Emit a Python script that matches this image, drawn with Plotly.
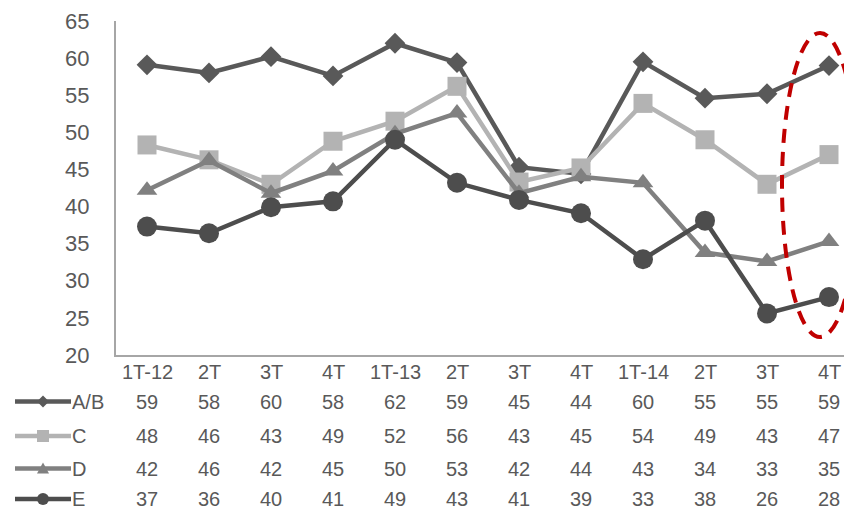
import plotly.graph_objects as go

categories = ["1T-12", "2T", "3T", "4T", "1T-13", "2T", "3T", "4T", "1T-14", "2T", "3T", "4T"]
series_names = ["A/B", "C", "D", "E"]
ab_values = [59.1, 58.0, 60.2, 57.6, 62.0, 59.4, 45.3, 44.4, 59.5, 54.6, 55.2, 59.0]
c_values = [48.3, 46.3, 43.0, 48.8, 51.5, 56.2, 43.3, 45.2, 53.9, 49.0, 43.0, 47.0]
d_values = [42.2, 46.2, 41.8, 44.8, 49.8, 52.6, 41.8, 44.0, 43.2, 33.8, 32.6, 35.3]
e_values = [37.3, 36.4, 39.9, 40.7, 49.0, 43.2, 40.9, 39.1, 32.9, 38.1, 25.6, 27.8]
table_ab = [59, 58, 60, 58, 62, 59, 45, 44, 60, 55, 55, 59]
table_c = [48, 46, 43, 49, 52, 56, 43, 45, 54, 49, 43, 47]
table_d = [42, 46, 42, 45, 50, 53, 42, 44, 43, 34, 33, 35]
table_e = [37, 36, 40, 41, 49, 43, 41, 39, 33, 38, 26, 28]
y_ticks = [20, 25, 30, 35, 40, 45, 50, 55, 60, 65]

OFF = 8  # default page body margin
PW, PH = 852, 511
W, H = PW - OFF, PH - OFF
P_LEFT, P_TOP, P_BOTTOM = 116, 21, 355
L = P_LEFT - OFF
T = P_TOP - OFF
B = PH - P_BOTTOM
R = 0
font_family = "Liberation Sans, Arial, sans-serif"
txt_color = "#595959"

styles = [
    dict(color="#595959", symbol="diamond", size=16),
    dict(color="#b3b3b3", symbol="square", size=19),
    dict(color="#808080", symbol="triangle-up", size=18),
    dict(color="#4d4d4d", symbol="circle", size=20),
]
values = [ab_values, c_values, d_values, e_values]
tables = [table_ab, table_c, table_d, table_e]

xs = list(range(len(categories)))
fig = go.Figure()
for name, vals, st in zip(series_names, values, styles):
    fig.add_trace(go.Scatter(
        x=xs, y=vals, name=name, mode="lines+markers",
        line=dict(color=st["color"], width=4.5),
        marker=dict(symbol=st["symbol"], size=st["size"], color=st["color"]),
        showlegend=False, cliponaxis=False,
    ))

plot_w = W - L - R
px_per_cat = 62.0
x_max = -0.5 + plot_w / px_per_cat
plot_h = H - T - B

def px_to_paper_x(px):
    return (px - OFF - L) / plot_w

def py_to_paper_y(py):
    return (P_BOTTOM - py) / plot_h

row_py = [401.5, 436, 468.5, 499]
annotations = []
for i, cat in enumerate(categories):
    annotations.append(dict(x=i, y=py_to_paper_y(372), xref="x", yref="paper",
                            text=cat, showarrow=False, xanchor="center", yanchor="middle",
                            borderpad=0,
                            font=dict(size=20, color=txt_color, family=font_family)))
shapes = []
for r, (name, tab, st) in enumerate(zip(series_names, tables, styles)):
    yp = py_to_paper_y(row_py[r])
    for i, v in enumerate(tab):
        annotations.append(dict(x=i, y=yp, xref="x", yref="paper", text=str(v),
                                showarrow=False, xanchor="center", yanchor="middle",
                                borderpad=0,
                                font=dict(size=20, color=txt_color, family=font_family)))
    annotations.append(dict(x=px_to_paper_x(71), y=yp, xref="paper", yref="paper", text=name,
                            showarrow=False, xanchor="left", yanchor="middle", borderpad=0,
                            font=dict(size=20, color=txt_color, family=font_family)))
    shapes.append(dict(type="line", xref="paper", yref="paper",
                       x0=px_to_paper_x(15), x1=px_to_paper_x(71), y0=yp, y1=yp,
                       line=dict(color=st["color"], width=4.5)))
    cx = px_to_paper_x(43)
    common = dict(xref="paper", yref="paper", xsizemode="pixel", ysizemode="pixel",
                  xanchor=cx, yanchor=yp, fillcolor=st["color"], line=dict(width=0))
    if st["symbol"] == "diamond":
        shapes.append(dict(type="path", path="M -6 0 L 0 6 L 6 0 L 0 -6 Z", **common))
    elif st["symbol"] == "square":
        shapes.append(dict(type="rect", x0=-6, x1=6, y0=-6, y1=6, **common))
    elif st["symbol"] == "triangle-up":
        shapes.append(dict(type="path", path="M -6 -5 L 6 -5 L 0 6 Z", **common))
    else:
        shapes.append(dict(type="circle", x0=-6, x1=6, y0=-6, y1=6, **common))

shapes.append(dict(type="circle", xref="paper", yref="paper",
                   x0=px_to_paper_x(782), x1=px_to_paper_x(858),
                   y0=py_to_paper_y(337), y1=py_to_paper_y(33),
                   line=dict(color="#c00000", width=4, dash="14px,9px"),
                   fillcolor="rgba(0,0,0,0)"))

fig.update_layout(
    width=W, height=H,
    margin=dict(l=L, r=R, t=T, b=B),
    paper_bgcolor="white", plot_bgcolor="white",
    font=dict(family=font_family, color=txt_color),
    xaxis=dict(range=[-0.5, x_max], tickvals=xs, ticktext=[""] * len(xs),
               showgrid=False, zeroline=False, showline=True,
               linecolor="#a6a6a6", linewidth=2, ticks=""),
    yaxis=dict(range=[20, 65], tickvals=y_ticks, showgrid=False, zeroline=False,
               showline=True, linecolor="#a6a6a6", linewidth=2, ticks="",
               tickfont=dict(size=22, color=txt_color, family=font_family),
               ticklabelstandoff=20),
    annotations=annotations,
    shapes=shapes,
)

fig.write_html("out.html")
